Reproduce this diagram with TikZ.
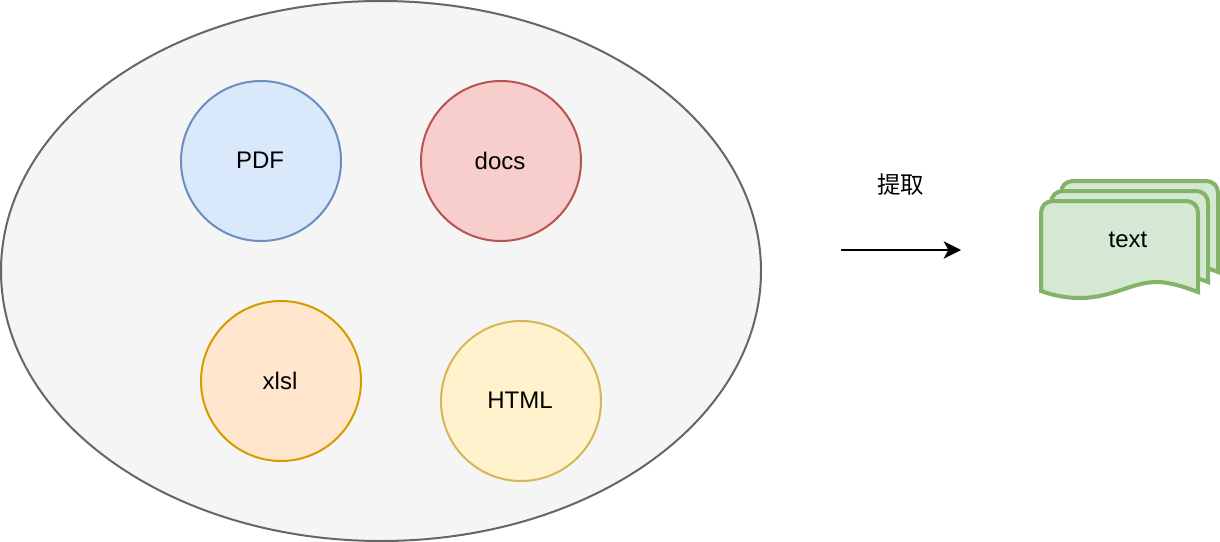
\documentclass[tikz,border=0pt]{standalone}
\usepackage{fontspec}
\setmainfont{Liberation Sans}
\newfontfamily\cjk{Noto Sans CJK SC}
\usetikzlibrary{arrows.meta,shapes.geometric}
\definecolor{ringf}{HTML}{F5F5F5}\definecolor{ringd}{HTML}{666666}
\definecolor{bluef}{HTML}{DAE8FC}\definecolor{blued}{HTML}{6C8EBF}
\definecolor{redf}{HTML}{F8CECC}\definecolor{redd}{HTML}{B85450}
\definecolor{orangef}{HTML}{FFE6CC}\definecolor{oranged}{HTML}{D79B00}
\definecolor{yellowf}{HTML}{FFF2CC}\definecolor{yellowd}{HTML}{D6B656}
\definecolor{greenf}{HTML}{D5E8D4}\definecolor{greend}{HTML}{82B366}
\tikzset{
  every node/.style={font=\fontsize{18}{22}\selectfont,text=black,inner sep=0pt},
  blob/.style={circle,draw,line width=1.5pt,minimum size=120pt},
  sheet/.style={draw=greend,fill=greenf,line width=3pt,line join=miter},
  flow/.style={-{Stealth[length=13pt,width=13pt,inset=3.5pt]},line width=1.5pt,black}
}
\newcommand{\nudged}[1]{\raisebox{0.75pt}{#1\hspace{1.5pt}}}
\newcommand{\sheetpath}[1]{%
  \path[sheet,shift={(#1,-#1)}] (1041,291) -- (1041,213)
    .. controls (1041,206) and (1046,201) .. (1053,201) -- (1186,201)
    .. controls (1193,201) and (1198,206) .. (1198,213) -- (1198,292)
    .. controls (1182,286) and (1168,282) .. (1157,282)
    .. controls (1132,282) and (1112,298) .. (1080,298)
    .. controls (1065,298) and (1052,295) .. (1041,291) -- cycle;}
\begin{document}
\begin{tikzpicture}[x=0.75pt,y=-0.75pt]
\path[use as bounding box] (0,0) rectangle (1220,542);
\node[ellipse,draw=ringd,fill=ringf,line width=1.5pt,minimum width=570pt,minimum height=405pt] (pool) at (381,271) {};
\node[blob,draw=blued,fill=bluef] (pdf) at (261,161) {\nudged{PDF}};
\node[blob,draw=redd,fill=redf] (docs) at (501,161) {\nudged{docs}};
\node[blob,draw=oranged,fill=orangef] (xlsl) at (281,381) {\nudged{xlsl}};
\node[blob,draw=yellowd,fill=yellowf] (html) at (521,401) {\nudged{HTML}};
\node (label) at (900.5,185) {\cjk\fontsize{17.6}{20}\selectfont 提取};
\coordinate (from) at (841,250);
\coordinate (to) at (961,250);
\draw[flow] (from) -- (to);
\sheetpath{20}
\sheetpath{10}
\sheetpath{0}
\node (text) at (1128,240) {text};
\end{tikzpicture}
\end{document}
